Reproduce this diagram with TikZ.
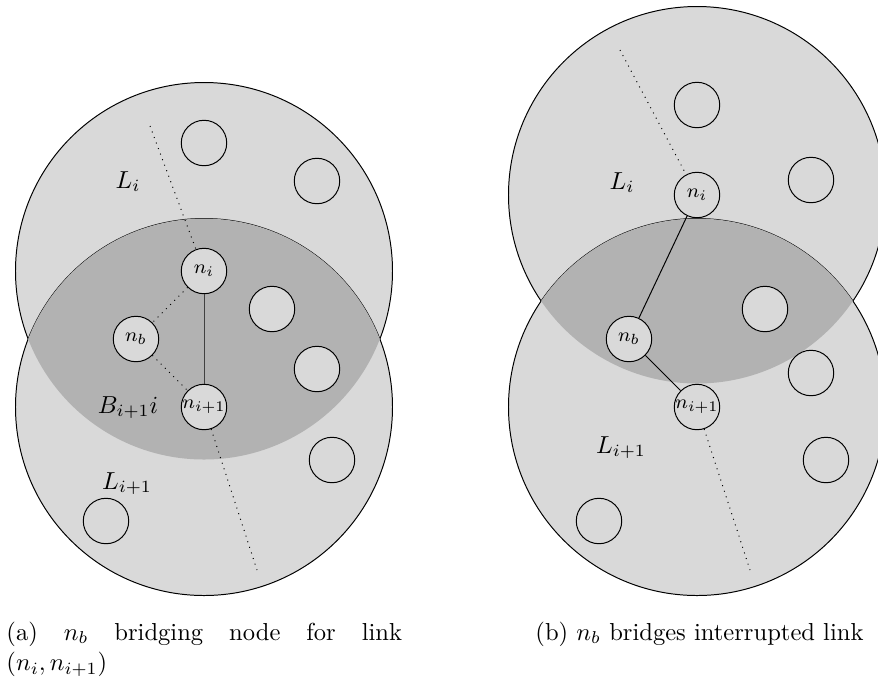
\documentclass[tikz,border=0pt]{standalone}
\begin{document}
\begin{tikzpicture}[x=0.407pt,y=-0.407pt,
  region/.style={fill=gray!30,draw=black,line width=0.4pt},
  overlap/.style={fill=gray!60},
  host/.style={circle,draw=black,fill=gray!30,minimum size=18.5pt,inner sep=0pt,font=\footnotesize},
  link/.style={draw=black},
  hop/.style={dotted},
  lbl/.style={inner sep=0pt,anchor=base}]
\useasboundingbox (0,0) rectangle (878,682);

% ---------- panel (a) ----------
\path[region] (204,271) circle[radius=188.5];
\path[region] (204,407) circle[radius=188.5];
\begin{scope}
  \clip (204,271) circle[radius=188.5];
  \fill[overlap] (204,407) circle[radius=188.5];
\end{scope}

\node[lbl] (aLi) at (128,188) {$L_i$};
\node[lbl] (aB) at (128,413) {$B_{i+1}i$};
\node[lbl] (aLj) at (127,489) {$L_{i+1}$};

\node[host] (ani) at (204,271) {$n_i$};
\node[host] (anb) at (136,339) {$n_b$};
\node[host] (anj) at (204,407) {$n_{i+1}$};
\node[host] (ah1) at (204,143) {};
\node[host] (ah2) at (317,181) {};
\node[host] (ah3) at (272,309) {};
\node[host] (ah4) at (317,369) {};
\node[host] (ah5) at (332,460) {};
\node[host] (ah6) at (106,521) {};

\coordinate (aTop) at (150,126);
\coordinate (aBot) at (257,570);
\draw[hop] (aTop) -- (ani);
\draw[hop] (anj) -- (aBot);
\draw[hop] (ani) -- (anb);
\draw[hop] (anb) -- (anj);
\draw[link,draw=black!75] (ani) -- (anj);

% ---------- panel (b) ----------
\path[region] (697,195) circle[radius=188.5];
\path[region] (697,407) circle[radius=188.5];
\begin{scope}
  \clip (697,195) circle[radius=188.5];
  \fill[overlap] (697,407) circle[radius=188.5];
\end{scope}

\node[lbl] (bLi) at (622,189) {$L_i$};
\node[lbl] (bLj) at (621,453) {$L_{i+1}$};

\node[host] (bni) at (697,195) {$n_i$};
\node[host] (bnb) at (629,339) {$n_b$};
\node[host] (bnj) at (697,407) {$n_{i+1}$};
\node[host] (bh1) at (697,105) {};
\node[host] (bh2) at (811,180) {};
\node[host] (bh3) at (765,309) {};
\node[host] (bh4) at (811,373) {};
\node[host] (bh5) at (826,460) {};
\node[host] (bh6) at (599,521) {};

\coordinate (bTop) at (620,50);
\coordinate (bBot) at (750,570);
\draw[hop] (bTop) -- (bni);
\draw[hop] (bnj) -- (bBot);
\draw[link] (bni) -- (bnb);
\draw[link] (bnb) -- (bnj);

% ---------- captions ----------
\node[inner sep=0pt,anchor=base west] (capa) at (6,640)
  {\parbox[t]{161pt}{\makebox[161pt][s]{(a) $n_b$ bridging node for link}\\[0.6pt]$(n_i,n_{i+1})$}};
\node[inner sep=0pt,anchor=base west] (capb) at (535,640)
  {(b) $n_b$ bridges interrupted link};
\end{tikzpicture}
\end{document}
